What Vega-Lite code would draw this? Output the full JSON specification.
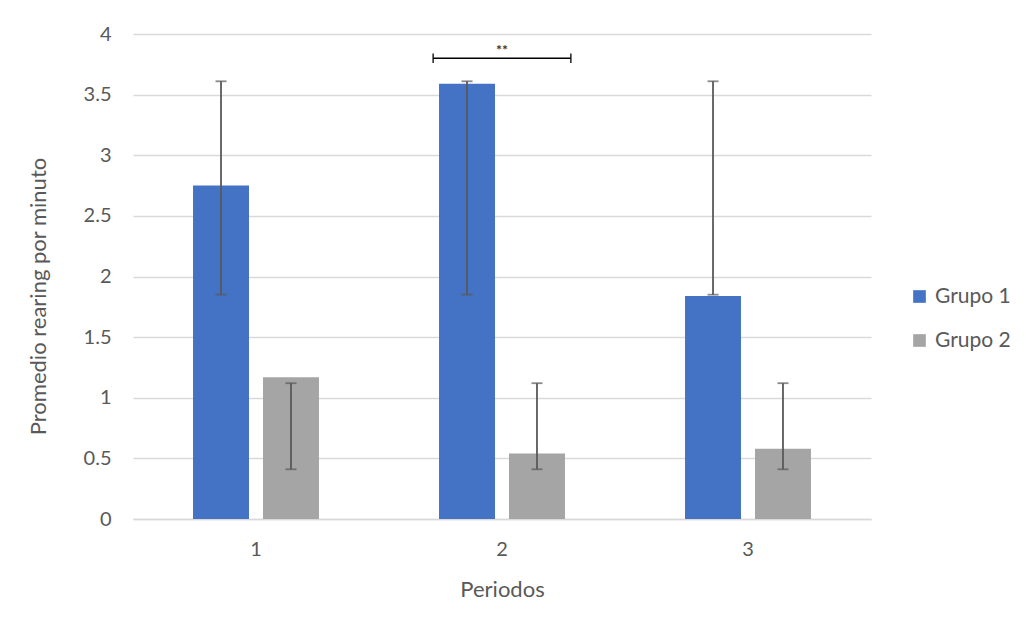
{
  "$schema": "https://vega.github.io/schema/vega-lite/v6.json",
  "autosize": "none",
  "width": 738,
  "height": 485,
  "padding": {"left": 133, "top": 34, "right": 155, "bottom": 115},
  "background": "white",
  "config": {
    "font": "Lato",
    "view": {"stroke": null},
    "axis": {"labelColor": "#595959", "titleColor": "#595959", "labelFont": "Lato", "titleFont": "Lato", "titleFontWeight": "normal"},
    "legend": {"labelColor": "#595959", "labelFont": "Lato"}
  },
  "layer": [
    {
      "data": {"values": [
        {"periodo": "1", "grupo": "Grupo 1", "media": 2.75, "lo": 1.85, "hi": 3.61},
        {"periodo": "1", "grupo": "Grupo 2", "media": 1.17, "lo": 0.41, "hi": 1.12},
        {"periodo": "2", "grupo": "Grupo 1", "media": 3.59, "lo": 1.85, "hi": 3.61},
        {"periodo": "2", "grupo": "Grupo 2", "media": 0.54, "lo": 0.41, "hi": 1.12},
        {"periodo": "3", "grupo": "Grupo 1", "media": 1.84, "lo": 1.85, "hi": 3.61},
        {"periodo": "3", "grupo": "Grupo 2", "media": 0.58, "lo": 0.41, "hi": 1.12}
      ]},
      "encoding": {
        "x": {"field": "periodo", "type": "nominal",
              "scale": {"paddingInner": 0.488, "paddingOuter": 0.244},
              "axis": {"title": "Periodos", "labelAngle": 0, "labelFontSize": 20, "titleFontSize": 22,
                       "ticks": false, "domainColor": "#d9d9d9", "domainWidth": 1.5,
                       "labelPadding": 20, "titlePadding": 20}},
        "xOffset": {"field": "grupo", "type": "nominal", "scale": {"paddingInner": 0.2, "paddingOuter": 0}}
      },
      "layer": [
        {
          "mark": {"type": "bar"},
          "encoding": {
            "y": {"field": "media", "type": "quantitative",
                  "scale": {"domain": [0, 4], "nice": false},
                  "axis": {"title": "Promedio rearing por minuto", "values": [0, 0.5, 1, 1.5, 2, 2.5, 3, 3.5, 4],
                           "format": "~g", "labelFontSize": 20, "titleFontSize": 22, "ticks": false,
                           "domain": false, "gridColor": "#d9d9d9", "gridWidth": 1.5,
                           "labelPadding": 22, "titlePadding": 33, "titleY": 262}},
            "color": {"field": "grupo", "type": "nominal",
                      "scale": {"domain": ["Grupo 1", "Grupo 2"], "range": ["#4472C4", "#A5A5A5"]},
                      "legend": {"title": null, "orient": "none", "legendX": 776, "legendY": 252,
                                 "symbolType": "square", "symbolSize": 160, "symbolStrokeWidth": 0,
                                 "labelFontSize": 21, "labelOffset": 5, "rowPadding": 22, "padding": 0}}
          }
        },
        {
          "mark": {"type": "rule", "color": "#595959", "strokeWidth": 1.8},
          "encoding": {
            "y": {"field": "lo", "type": "quantitative"},
            "y2": {"field": "hi"}
          }
        },
        {
          "mark": {"type": "tick", "color": "#595959", "thickness": 1.8, "size": 11},
          "encoding": {"y": {"field": "lo", "type": "quantitative"}}
        },
        {
          "mark": {"type": "tick", "color": "#595959", "thickness": 1.8, "size": 11},
          "encoding": {"y": {"field": "hi", "type": "quantitative"}}
        }
      ]
    },
    {
      "data": {"values": [{"xa": 1.72, "xb": 2.28, "yb": 3.80, "ylo": 3.76, "yhi": 3.84, "xm": 2.0, "yt": 3.86, "txt": "**"}]},
      "layer": [
        {
          "mark": {"type": "rule", "color": "#000000", "strokeWidth": 1.3},
          "encoding": {
            "x": {"field": "xa", "type": "quantitative", "scale": {"domain": [0.5, 3.5], "nice": false, "zero": false}, "axis": null},
            "x2": {"field": "xb"},
            "y": {"field": "yb", "type": "quantitative"}
          }
        },
        {
          "mark": {"type": "rule", "color": "#000000", "strokeWidth": 1.3},
          "encoding": {
            "x": {"field": "xa", "type": "quantitative", "scale": {"domain": [0.5, 3.5], "nice": false, "zero": false}, "axis": null},
            "y": {"field": "ylo", "type": "quantitative"},
            "y2": {"field": "yhi"}
          }
        },
        {
          "mark": {"type": "rule", "color": "#000000", "strokeWidth": 1.3},
          "encoding": {
            "x": {"field": "xb", "type": "quantitative", "scale": {"domain": [0.5, 3.5], "nice": false, "zero": false}, "axis": null},
            "y": {"field": "ylo", "type": "quantitative"},
            "y2": {"field": "yhi"}
          }
        },
        {
          "mark": {"type": "text", "color": "#333333", "fontSize": 14, "fontWeight": "bold", "baseline": "middle"},
          "encoding": {
            "x": {"field": "xm", "type": "quantitative", "scale": {"domain": [0.5, 3.5], "nice": false, "zero": false}, "axis": null},
            "y": {"field": "yt", "type": "quantitative"},
            "text": {"field": "txt"}
          }
        }
      ]
    }
  ],
  "resolve": {"scale": {"x": "independent"}, "axis": {"x": "independent"}}
}
